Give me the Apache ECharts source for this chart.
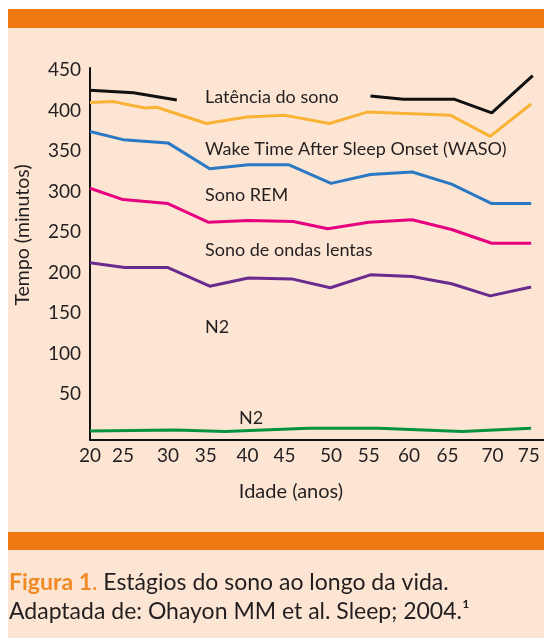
<!DOCTYPE html>
<html>
<head>
<meta charset="utf-8">
<script src="https://cdn.jsdelivr.net/npm/echarts@6/dist/echarts.min.js"></script>
<style>
html,body{margin:0;padding:0;background:#fff;}
#c{width:544px;height:638px;}
</style>
</head>
<body>
<div id="c"></div>
<script>
// ---- data (age in years, time in minutes) ----
const latX  = [20, 25.4, 30.8, null, 54.9, 59.0, 65.3, 70.0, 75.1];
const latY  = [425, 422, 413, null, 418, 414, 414, 397, 443];

const wasoX = [20, 22.9, 26.8, 28.3, 34.5, 39.5, 44.3, 49.8, 54.5, 64.9, 69.8, 74.9];
const wasoY = [410, 411, 403, 404, 384, 392, 394, 384, 398, 394, 368, 408];

const remX  = [20, 24.1, 29.7, 34.9, 39.7, 44.7, 50.0, 54.9, 60.1, 65.0, 70.0, 74.9];
const remY  = [374, 364, 360, 328, 333, 333, 310, 321, 324, 309, 285, 285];

const swsX  = [20, 24.1, 29.7, 34.7, 39.7, 45.3, 49.6, 54.7, 60.1, 65.0, 70.0, 74.9];
const swsY  = [304, 290, 285, 262, 264, 263, 254, 262, 265, 253, 236, 236];

const n2X   = [20, 24.3, 29.7, 34.9, 39.7, 45.1, 49.9, 54.9, 60.1, 65.0, 69.8, 74.9];
const n2Y   = [212, 206, 206, 183, 193, 192, 181, 197, 195, 186, 171, 182];

const n1X   = [20, 30.6, 36.8, 47.2, 49.3, 55.9, 66.3, 74.9];
const n1Y   = [4, 5.5, 3.5, 7.5, 7.5, 7.5, 3.5, 7.5];

// tick labels
const xTickPos    = [20, 24.1, 29.7, 34.4, 39.6, 44.2, 50.0, 54.7, 59.7, 64.5, 70.1, 74.6];
const xTickLabels = ['20','25','30','35','40','45','50','55','60','65','70','75'];
const yTicks      = [50, 100, 150, 200, 250, 300, 350, 400, 450];

// texts
const lineLabels = ['Latência do sono', 'Wake Time After Sleep Onset (WASO)', 'Sono REM', 'Sono de ondas lentas', 'N2', 'N2'];
const xTitle = 'Idade (anos)';
const yTitle = 'Tempo (minutos)';

const FONT = 'Lato';
const TXT = '#231f20';

function pairs(xs, ys){
  return xs.map((x,i)=> (x===null||ys[i]===null) ? ['-','-'] : [x, ys[i]]);
}

const chart = echarts.init(document.getElementById('c'), null, {renderer:'canvas'});

function lineSeries(name, xs, ys, color){
  return {
    name, type:'line', data: pairs(xs, ys), symbol:'none', connectNulls:false,
    lineStyle:{color, width:3}, itemStyle:{color}, z:3, animation:false
  };
}

function lbl(text, x, y){
  return {type:'text', x, y, style:{text, font:`18px ${FONT}`, fill:TXT, textVerticalAlign:'middle', verticalAlign:'middle'}};
}

chart.setOption({
  animation:false,
  textStyle:{fontFamily:FONT},
  grid:{left:90, right:0, top:68, bottom:198, containLabel:false},
  xAxis:{
    type:'value', min:20, max:76.5,
    axisLine:{show:true, onZero:false, lineStyle:{color:'#111', width:2}},
    axisTick:{show:false},
    splitLine:{show:false},
    axisLabel:{
      customValues: xTickPos,
      formatter:(v)=>{ const i = xTickPos.findIndex(p=>Math.abs(p-v)<1e-6); return i>=0 ? xTickLabels[i] : ''; },
      fontFamily:FONT, fontSize:19, color:TXT, margin:6
    }
  },
  yAxis:{
    type:'value', min:-7, max:452.5,
    axisLine:{show:true, onZero:false, lineStyle:{color:'#111', width:2}},
    axisTick:{show:false},
    splitLine:{show:false},
    axisLabel:{customValues: yTicks, fontFamily:FONT, fontSize:19, color:TXT, margin:9}
  },
  graphic:[
    {type:'rect', z:-10, shape:{x:8, y:9, width:536, height:629}, style:{fill:'#fde5d4'}},
    {type:'rect', z:-9, shape:{x:8, y:9, width:536, height:19}, style:{fill:'#f07914'}},
    {type:'rect', z:-9, shape:{x:8, y:532, width:536, height:18}, style:{fill:'#f07914'}},
    lbl(lineLabels[0], 205, 97),
    lbl(lineLabels[1], 205, 149),
    lbl(lineLabels[2], 205, 195),
    lbl(lineLabels[3], 205, 250),
    lbl(lineLabels[4], 205, 327),
    lbl(lineLabels[5], 239, 418),
    {type:'text', x:291, y:492, style:{text:xTitle, font:`20px ${FONT}`, fill:TXT, textAlign:'center', textVerticalAlign:'middle', align:'center', verticalAlign:'middle'}},
    {type:'text', x:23, y:235, rotation:Math.PI/2, style:{text:yTitle, font:`19.5px ${FONT}`, fill:TXT, textAlign:'center', textVerticalAlign:'middle', align:'center', verticalAlign:'middle'}},
    {type:'text', left:9, top:568, style:{
      text:'{o|Figura 1}{p|.} Estágios do sono ao longo da vida.\nAdaptada de: Ohayon MM et al. Sleep; 2004.¹',
      font:`23px ${FONT}`, fill:TXT, lineHeight:29,
      rich:{
        o:{fill:'#f08a24', fontWeight:'bold', fontSize:23, fontFamily:FONT, lineHeight:29},
        p:{fill:'#f08a24', fontSize:23, fontFamily:FONT, lineHeight:29}
      }
    }}
  ],
  series:[
    lineSeries(lineLabels[0], latX, latY, '#111111'),
    lineSeries('WASO', wasoX, wasoY, '#f9b233'),
    lineSeries(lineLabels[2], remX, remY, '#2b79c2'),
    lineSeries(lineLabels[3], swsX, swsY, '#e5007e'),
    lineSeries('N2 (roxo)', n2X, n2Y, '#6a2b8f'),
    lineSeries('N2 (verde)', n1X, n1Y, '#07923f')
  ]
});
</script>
</body>
</html>
